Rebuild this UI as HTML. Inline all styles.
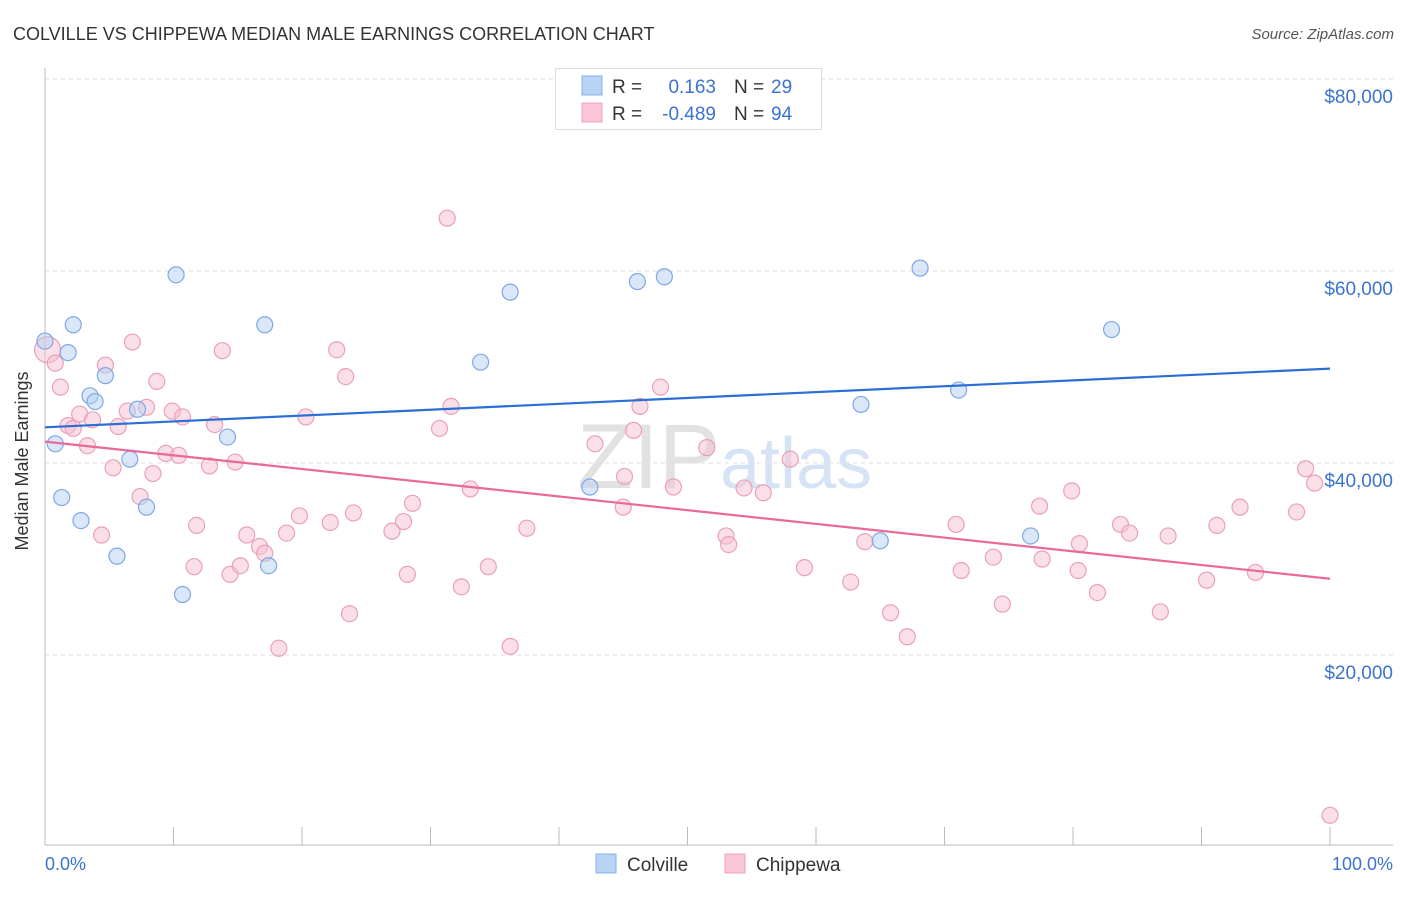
<!DOCTYPE html>
<html><head><meta charset="utf-8"><style>
body{margin:0;background:#fff;font-family:"Liberation Sans",sans-serif;}
svg text{font-family:"Liberation Sans",sans-serif;}
</style></head><body>
<svg id="chart" width="1406" height="892" xmlns="http://www.w3.org/2000/svg">
<text x="13" y="40" font-size="18" fill="#333">COLVILLE VS CHIPPEWA MEDIAN MALE EARNINGS CORRELATION CHART</text>
<text x="1394" y="39" font-size="15" fill="#555" font-style="italic" text-anchor="end">Source: ZipAtlas.com</text>
<g id="grid"></g>
<text x="720" y="488" font-size="92" fill="#e2e2e2" text-anchor="end" font-family="Liberation Serif">ZIP</text>
<text x="720" y="488" font-size="72" fill="#d6e3f4">atlas</text>
<line x1="45" y1="68" x2="45" y2="845" stroke="#bbb" stroke-width="1"/>
<line x1="45" y1="845" x2="1393" y2="845" stroke="#bbb" stroke-width="1"/>
<g id="ticks"></g>
<g id="pts"></g>
<g id="trends"></g>
<text x="22" y="455" font-size="18" fill="#333" text-anchor="middle" transform="rotate(-90 28 455)">Median Male Earnings</text>
<text x="45" y="870" font-size="18" fill="#3b73d0">0.0%</text>
<text x="1393" y="870" font-size="18" fill="#3b73d0" text-anchor="end">100.0%</text>
<g>
<rect x="555.5" y="68.5" width="266" height="61" fill="#fff" stroke="#ddd"/>
<rect x="582" y="76" width="20" height="19" fill="#b9d3f5" stroke="#8ab0e6"/>
<rect x="582" y="103" width="20" height="19" fill="#f9c6d5" stroke="#eea0b8"/>
<text x="612" y="93" font-size="19" fill="#333">R =</text>
<text x="716" y="93" font-size="19" fill="#3b73d0" text-anchor="end">0.163</text>
<text x="734" y="93" font-size="19" fill="#333">N =</text>
<text x="771" y="93" font-size="19" fill="#3b73d0">29</text>
<text x="612" y="120" font-size="19" fill="#333">R =</text>
<text x="716" y="120" font-size="19" fill="#3b73d0" text-anchor="end">-0.489</text>
<text x="734" y="120" font-size="19" fill="#333">N =</text>
<text x="771" y="120" font-size="19" fill="#3b73d0">94</text>
</g>
<g>
<rect x="596" y="854" width="20" height="19" fill="#b9d3f5" stroke="#8ab0e6"/>
<text x="627" y="871" font-size="19" fill="#333">Colville</text>
<rect x="725" y="854" width="20" height="19" fill="#f9c6d5" stroke="#eea0b8"/>
<text x="756" y="871" font-size="19" fill="#333">Chippewa</text>
</g>
</svg>
<script>
const yTicks=[20000,40000,60000,80000];
const yTickLabels=["$20,000","$40,000","$60,000","$80,000"];
const xTicks=[0,10,20,30,40,50,60,70,80,90,100];
const colvilleX=[0,2.2,1.8,0.8,1.3,2.8,3.5,3.9,4.7,5.6,6.6,7.2,7.9,10.2,10.7,14.2,17.1,17.4,33.9,36.2,42.4,46.1,48.2,63.5,65.0,68.1,71.1,76.7,83.0];
const colvilleY=[52.7,54.4,51.5,42.0,36.4,34.0,47.0,46.4,49.1,30.3,40.4,45.6,35.4,59.6,26.3,42.7,54.4,29.3,50.5,57.8,37.5,58.9,59.4,46.1,31.9,60.3,47.6,32.4,53.9];
const chippewaX=[0.2,0.8,1.2,1.8,2.2,2.7,3.3,3.7,4.4,4.7,5.3,5.7,6.4,6.8,7.4,7.9,8.4,8.7,9.4,9.9,10.4,10.7,11.6,11.8,12.8,13.2,13.8,14.4,14.8,15.2,15.7,16.7,17.1,18.2,18.8,19.8,20.3,22.2,22.7,23.4,23.7,24.0,27.0,27.9,28.2,28.6,30.7,31.3,31.6,32.4,33.1,34.5,36.2,37.5,42.8,45.0,45.1,45.8,46.3,47.9,48.9,51.5,53.0,53.2,54.4,55.9,58.0,59.1,62.7,63.8,65.8,67.1,70.9,71.3,73.8,74.5,77.4,77.6,79.9,80.4,80.5,81.9,83.7,84.4,86.8,87.4,90.4,91.2,93.0,94.2,97.4,98.1,98.8,100];
const chippewaY=[51.8,50.4,47.9,43.9,43.6,45.1,41.8,44.5,32.5,50.2,39.5,43.8,45.4,52.6,36.5,45.8,38.9,48.5,41.0,45.4,40.8,44.8,29.2,33.5,39.7,44.0,51.7,28.4,40.1,29.3,32.5,31.3,30.6,20.7,32.7,34.5,44.8,33.8,51.8,49.0,24.3,34.8,32.9,33.9,28.4,35.8,43.6,65.5,45.9,27.1,37.3,29.2,20.9,33.2,42.0,35.4,38.6,43.4,45.9,47.9,37.5,41.6,32.4,31.5,37.4,36.9,40.4,29.1,27.6,31.8,24.4,21.9,33.6,28.8,30.2,25.3,35.5,30.0,37.1,28.8,31.6,26.5,33.6,32.7,24.5,32.4,27.8,33.5,35.4,28.6,34.9,39.4,37.9,3.3];
const NS="http://www.w3.org/2000/svg";
const X=p=>45+p*12.85;
const Y=v=>847-v*0.0096;
function mk(t,a){const e=document.createElementNS(NS,t);for(const k in a)e.setAttribute(k,a[k]);return e;}
const grid=document.getElementById('grid');
yTicks.forEach((v,i)=>{
 const l=mk('line',{x1:45,x2:1393,y1:Y(v),y2:Y(v),stroke:'#ddd','stroke-dasharray':'4,4'});
 
 
 grid.appendChild(l);
 const t=mk('text',{x:1393,y:Y(v)+24,'font-size':19,fill:'#3b73d0','text-anchor':'end'});
 t.textContent=yTickLabels[i];
 
 
 grid.appendChild(t);
});
const ticks=document.getElementById('ticks');
xTicks.forEach(p=>{
 const l=mk('line',{x1:X(p),x2:X(p),y1:827,y2:845,stroke:'#bbb'});
 
 
 ticks.appendChild(l);
});
const pts=document.getElementById('pts');
function draw(xs,ys,fill,stroke,name){
 xs.forEach((x,i)=>{
  const c=mk('circle',{cx:X(x),cy:Y(ys[i]*1000),r:(name==='chippewa-point'&&i===0)?13:8,fill:fill,'fill-opacity':0.5,stroke:stroke,'stroke-width':1.2});
  
  
  pts.appendChild(c);
 });
}
draw(chippewaX,chippewaY,'#f7bfd1','#eaa0b8','chippewa-point');
draw(colvilleX,colvilleY,'#b3cff3','#7fa8e4','colville-point');
function reg(xs,ys){const n=xs.length;let sx=0,sy=0,sxx=0,sxy=0;for(let i=0;i<n;i++){sx+=xs[i];sy+=ys[i];sxx+=xs[i]*xs[i];sxy+=xs[i]*ys[i];}const b=(n*sxy-sx*sy)/(n*sxx-sx*sx);return [ (sy-b*sx)/n,b];}
const tr=document.getElementById('trends');
[[colvilleX,colvilleY,'#2a6fd6','colville-trend-line'],[chippewaX,chippewaY,'#e8699a','chippewa-trend-line']].forEach(([xs,ys,col,nm])=>{
 const [a,b]=reg(xs,ys);
 const l=mk('line',{x1:X(0),y1:Y(a*1000),x2:X(100),y2:Y((a+b*100)*1000),stroke:col,'stroke-width':2.2});
 
 
 tr.appendChild(l);
});
</script>
</body></html>
